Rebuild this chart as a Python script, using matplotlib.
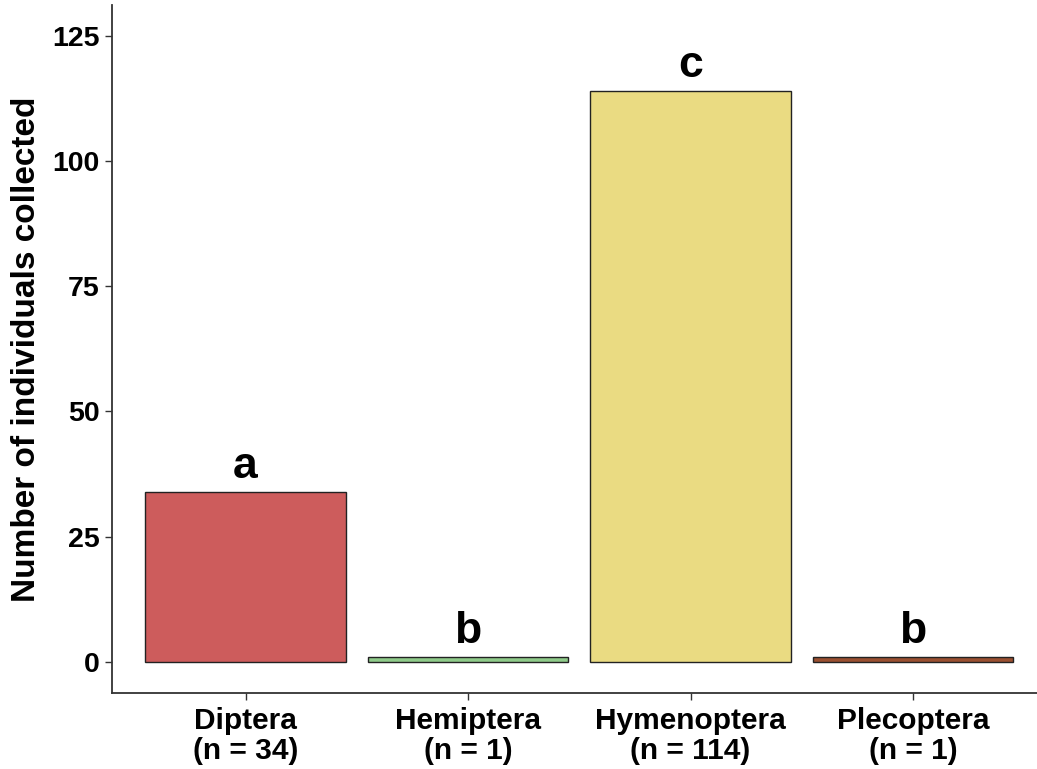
import matplotlib.pyplot as plt

ordens = ['Diptera', 'Hemiptera', 'Hymenoptera', 'Plecoptera']
contagens = [34, 1, 114, 1]
letras = ['a', 'b', 'c', 'b']
cores = ['#CD5C5C', '#8FCB8A', '#EADB82', '#9A5030']

plt.rcParams['font.family'] = ['Liberation Sans', 'DejaVu Sans']
plt.rcParams['font.weight'] = 'bold'

fig = plt.figure(figsize=(10.37, 7.69), dpi=100)
ax = fig.add_axes([0.108, 0.099, 0.892, 0.8945])

x = range(1, len(ordens) + 1)
ax.bar(x, contagens, width=0.9, color=cores, edgecolor='#222222', linewidth=1.0)

# letras de significância acima das barras
for xi, v, l in zip(x, contagens, letras):
    ax.annotate(l, (xi, v), xytext=(0, 10), textcoords='offset points',
                ha='center', va='baseline', fontsize=32, fontweight='bold')

ax.set_xlim(0.4, 4.557)
ax.set_ylim(-6.25, 131.25)
ax.set_yticks([0, 25, 50, 75, 100, 125])
ax.set_xticks(list(x))
ax.set_xticklabels([f'{o}\n(n = {n})' for o, n in zip(ordens, contagens)],
                   fontsize=21.5, fontweight='bold', linespacing=1.1)
ax.tick_params(axis='y', labelsize=20.5, length=5, width=1, color='#333333', pad=4)
ax.tick_params(axis='x', length=5, width=1, color='#333333', pad=5)
for lab in ax.get_yticklabels():
    lab.set_fontweight('bold')

ax.set_ylabel('Number of individuals collected', fontsize=24, fontweight='bold', labelpad=7)

for s in ['top', 'right']:
    ax.spines[s].set_visible(False)
for s in ['left', 'bottom']:
    ax.spines[s].set_color('#333333')
    ax.spines[s].set_linewidth(1.3)

plt.savefig('out.png', dpi=100)
